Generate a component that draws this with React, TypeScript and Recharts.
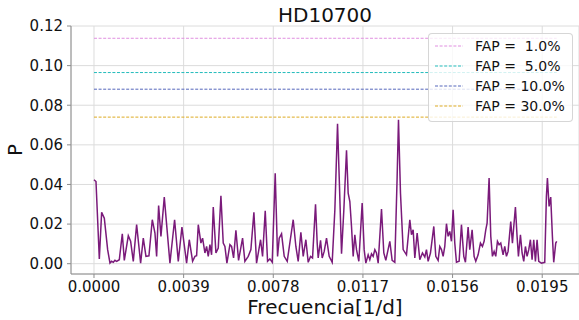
import { LineChart, Line, XAxis, YAxis, CartesianGrid, ReferenceLine } from 'recharts'

const FONT = '"DejaVu Sans", sans-serif'
const SPINE = '#8c8c8c'
const GRID = '#dcdcdc'

// frequency [1/d]
const FREQ = [
  0.0, 0.000087, 0.000232, 0.000333, 0.000449, 0.000594, 0.000696, 0.000768, 0.00084, 0.000913,
  0.000986, 0.001101, 0.001232, 0.001319, 0.001493, 0.001594, 0.00171, 0.001855, 0.002029, 0.002145,
  0.002261, 0.002391, 0.002536, 0.002652, 0.002725, 0.002812, 0.002913, 0.003058, 0.003304, 0.003507,
  0.003667, 0.003826, 0.004029, 0.004145,
  0.00429, 0.004391, 0.004464, 0.004537, 0.004652, 0.004725, 0.004826, 0.004899, 0.004971, 0.005044,
  0.005116, 0.005189, 0.005305, 0.005406, 0.005522, 0.005623, 0.005696, 0.005783, 0.005913, 0.005986,
  0.006073, 0.006174, 0.00629, 0.006464, 0.006565, 0.00671, 0.006826, 0.006957, 0.007073, 0.007247,
  0.007334, 0.00745, 0.007551, 0.007652, 0.007754, 0.007884, 0.007986, 0.008058, 0.00816, 0.008276,
  0.008406, 0.008667, 0.008783, 0.008884, 0.009, 0.009102, 0.009218, 0.009319, 0.009421, 0.009508,
  0.009638, 0.00971, 0.009754, 0.009856, 0.009928, 0.010015, 0.010116, 0.010232, 0.010363, 0.010479,
  0.010595, 0.010667, 0.010769, 0.01087, 0.010986, 0.011058, 0.011131, 0.011203, 0.011276, 0.011348,
  0.011421, 0.011522, 0.011667, 0.011754, 0.011827, 0.011928, 0.012, 0.012073, 0.012145, 0.012218,
  0.01229, 0.012363, 0.012508, 0.012609, 0.012696, 0.01287, 0.012971, 0.013087, 0.013189, 0.013247,
  0.013334, 0.01345, 0.013595, 0.01374, 0.013812, 0.013885, 0.013957, 0.014059, 0.014174, 0.01429,
  0.014392, 0.014464, 0.014537, 0.014638, 0.014783,
  0.01487, 0.014971, 0.015044, 0.015117, 0.015189, 0.015261, 0.015334, 0.015406, 0.015479, 0.015551,
  0.015624, 0.015696, 0.015769, 0.015885, 0.015986, 0.016088, 0.01616, 0.016276, 0.016348, 0.01645,
  0.016537, 0.016609, 0.016711, 0.016812, 0.016899, 0.016972, 0.017044, 0.017102, 0.017189, 0.017262,
  0.017334, 0.017407, 0.017479, 0.017552, 0.017624, 0.017696, 0.017798, 0.01787, 0.017943, 0.018015,
  0.018131, 0.018204, 0.018262, 0.018334, 0.018406, 0.018465, 0.018552, 0.018624, 0.018696, 0.018769,
  0.018841, 0.018914, 0.018986, 0.019059, 0.019131, 0.019204, 0.019276, 0.019349, 0.019465, 0.01961,
  0.019682, 0.019726, 0.019798, 0.01987, 0.019943, 0.02, 0.020088, 0.020131,
]

// periodogram power P
const POWER = [
  0.0424, 0.0415, 0.0024, 0.0259, 0.023, 0.0071, 0.0003, 0.0012, 0.0007, 0.0017,
  0.0012, 0.002, 0.0151, 0.0017, 0.0141, 0.0113, 0.0012, 0.0197, 0.0003, 0.0129,
  0.0037, 0.004, 0.0222, 0.0155, 0.0037, 0.0294, 0.0138, 0.0336, 0.0003, 0.0222,
  0.0012, 0.0185, 0.0003, 0.0121,
  0.0012, 0.0037, 0.004, 0.0197, 0.0104, 0.0129, 0.0054, 0.0087, 0.0037, 0.0096,
  0.0045, 0.0286, 0.0054, 0.0079, 0.0343, 0.0104, 0.0087, 0.0003, 0.0096, 0.0087,
  0.0029, 0.0168, 0.0017, 0.0129, 0.0012, 0.0037, 0.0071, 0.0259, 0.0003, 0.0121,
  0.0037, 0.0267, 0.0012, 0.0024, 0.0007, 0.0457, 0.0037, 0.0129, 0.0151, 0.0037,
  0.0012, 0.0222, 0.0087, 0.0012, 0.0158, 0.0037, 0.0121, 0.0007, 0.0037, 0.0029,
  0.03, 0.0104, 0.0029, 0.0118, 0.0029, 0.0062, 0.0129, 0.0037, 0.0007, 0.0272,
  0.0706, 0.044, 0.005, 0.0272, 0.0572, 0.0356, 0.0314, 0.0188, 0.0037, 0.0146,
  0.0071, 0.0012, 0.0306, 0.0071, 0.0003, 0.0045, 0.002, 0.005, 0.0037, 0.0071,
  0.0054, 0.0003, 0.0276, 0.0054, 0.0017, 0.0113, 0.0017, 0.0007, 0.044, 0.0726,
  0.0356, 0.0071, 0.0045, 0.0222, 0.0146, 0.0171, 0.0029, 0.0155, 0.002, 0.0054,
  0.0034, 0.0071, 0.0012, 0.0054, 0.0188,
  0.0037, 0.0017, 0.0087, 0.0071, 0.0037, 0.0087, 0.0202, 0.0138, 0.0163, 0.0113,
  0.0272, 0.0104, 0.0007, 0.0012, 0.0197, 0.0037, 0.0007, 0.0185, 0.0071, 0.0171,
  0.0037, 0.0012, 0.0045, 0.0104, 0.0087, 0.0113, 0.0171, 0.0205, 0.0432, 0.0138,
  0.0037, 0.0062, 0.0037, 0.0113, 0.0096, 0.0104, 0.0045, 0.0087, 0.0037, 0.0062,
  0.0213, 0.0104, 0.0188, 0.0286, 0.0138, 0.0037, 0.0146, 0.0054, 0.0012, 0.0087,
  0.0037, 0.0071, 0.0121, 0.002, 0.0121, 0.0012, 0.0121, 0.0012, 0.0003, 0.0007,
  0.034, 0.0432, 0.0289, 0.0336, 0.0138, 0.0007, 0.0104, 0.0113,
]

const FAP_LABELS = ['FAP =  1.0%', 'FAP =  5.0%', 'FAP = 10.0%', 'FAP = 30.0%']
const FAP_LEVELS = [0.1138, 0.0965, 0.0881, 0.074]
const FAP_COLORS = ['#e08fe0', '#22bbbb', '#5566bb', '#ddaa22']

const X_TICKS = [0, 0.0039, 0.0078, 0.0117, 0.0156, 0.0195]
const Y_TICKS = [0, 0.02, 0.04, 0.06, 0.08, 0.1, 0.12]
const X_DOMAIN = [-0.001, 0.0211]
const Y_DOMAIN = [-0.0052, 0.12]

const data = FREQ.map((f, i) => ({ f, p: POWER[i] }))
const fEnd = FREQ[FREQ.length - 1]

export default function App() {
  return (
    <div style={{ position: 'absolute', left: 0, top: 0, width: 579, height: 320, fontFamily: FONT, background: 'white' }}>
      <LineChart width={579} height={320} data={data} margin={{ top: 26, right: 0, bottom: 0, left: 0 }}>
        <CartesianGrid stroke={GRID} strokeWidth={1} />
        <XAxis
          dataKey="f" type="number" domain={X_DOMAIN} ticks={X_TICKS} allowDataOverflow
          height={46} tickSize={4} tickMargin={3}
          stroke={SPINE}
          tick={{ fill: '#111', fontSize: 15, fontFamily: FONT }}
          tickFormatter={(v: number) => v.toFixed(4)}
          label={{ value: 'Frecuencia[1/d]', position: 'insideBottom', offset: 6, fill: '#111', fontSize: 20, fontFamily: FONT }}
        />
        <XAxis
          xAxisId="top" orientation="top" type="number" domain={X_DOMAIN} allowDataOverflow
          height={0} tick={false} tickLine={false} stroke={SPINE}
        />
        <YAxis
          type="number" domain={Y_DOMAIN} ticks={Y_TICKS} allowDataOverflow
          width={71} tickSize={4} tickMargin={4}
          stroke={SPINE}
          tick={{ fill: '#111', fontSize: 15, fontFamily: FONT }}
          tickFormatter={(v: number) => v.toFixed(2)}
        />
        {FAP_LEVELS.map((v, i) => (
          <ReferenceLine
            key={FAP_LABELS[i]}
            segment={[{ x: 0, y: v }, { x: fEnd, y: v }]}
            stroke={FAP_COLORS[i]} strokeWidth={1} strokeDasharray="3 1.6"
          />
        ))}
        <Line
          type="linear" dataKey="p" stroke="#7a1a7a" strokeWidth={1.5}
          dot={false} activeDot={false} isAnimationActive={false}
        />
      </LineChart>

      <div style={{ position: 'absolute', left: 0, width: 650, top: 5, textAlign: 'center', fontSize: 20, lineHeight: 1, color: '#111' }}>
        HD10700
      </div>
      <div style={{ position: 'absolute', left: 15, top: 150, transform: 'translate(-50%, -50%) rotate(-90deg)', fontSize: 20, lineHeight: 1, color: '#111' }}>
        P
      </div>

      <div style={{
        position: 'absolute', left: 428, top: 33, width: 145, height: 89, boxSizing: 'border-box',
        background: 'rgba(255,255,255,0.8)', border: '1px solid rgba(204,204,204,0.8)', borderRadius: 4,
        paddingTop: 2,
      }}>
        {FAP_LABELS.map((label, i) => (
          <div key={label} style={{ height: 20, display: 'flex', alignItems: 'center', fontSize: 14, color: '#111' }}>
            <svg width={28} height={4} style={{ marginLeft: 6, marginRight: 12 }}>
              <line x1={0} y1={2} x2={28} y2={2} stroke={FAP_COLORS[i]} strokeWidth={1} strokeDasharray="3 1.6" />
            </svg>
            <span style={{ whiteSpace: 'pre' }}>{label}</span>
          </div>
        ))}
      </div>
    </div>
  )
}
